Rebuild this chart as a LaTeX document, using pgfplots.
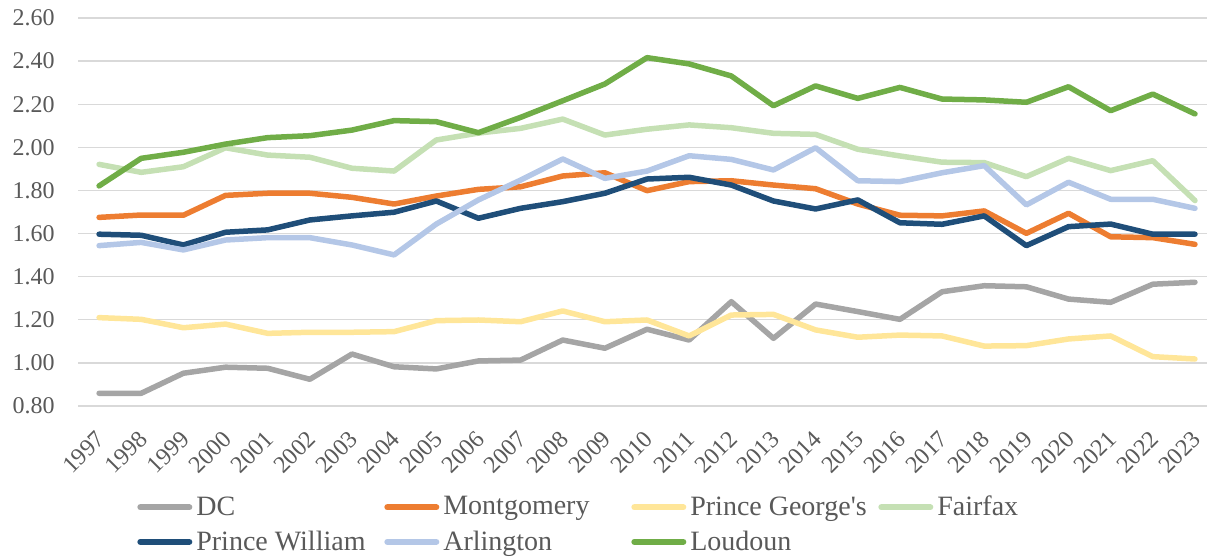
\documentclass[border=0pt]{standalone}
\usepackage{pgfplots}
\pgfplotsset{compat=1.18}
\usepackage{pgfplotstable}
\usepackage{fontspec}
\setmainfont{Liberation Serif}
\definecolor{txt}{HTML}{595959}
\definecolor{gridc}{HTML}{D9D9D9}
\definecolor{cDC}{HTML}{A5A5A5}
\definecolor{cMont}{HTML}{ED7D31}
\definecolor{cPG}{HTML}{FFE699}
\definecolor{cFair}{HTML}{C5E0B4}
\definecolor{cPW}{HTML}{1F4E79}
\definecolor{cArl}{HTML}{B4C7E7}
\definecolor{cLoud}{HTML}{70AD47}
\pgfplotstableread{
year DC Mont PG Fair PW Arl Loud
1997 0.859 1.675 1.210 1.921 1.597 1.544 1.821
1998 0.859 1.686 1.202 1.884 1.592 1.559 1.949
1999 0.952 1.685 1.163 1.910 1.547 1.524 1.977
2000 0.980 1.777 1.180 1.998 1.606 1.570 2.015
2001 0.975 1.787 1.137 1.964 1.617 1.581 2.045
2002 0.924 1.787 1.142 1.954 1.663 1.581 2.054
2003 1.041 1.768 1.142 1.903 1.682 1.547 2.080
2004 0.982 1.737 1.145 1.890 1.699 1.501 2.124
2005 0.972 1.774 1.196 2.034 1.751 1.644 2.119
2006 1.009 1.805 1.199 2.066 1.671 1.756 2.068
2007 1.013 1.817 1.191 2.088 1.717 1.848 2.139
2008 1.106 1.867 1.241 2.131 1.748 1.946 2.216
2009 1.068 1.882 1.191 2.057 1.787 1.856 2.294
2010 1.156 1.799 1.199 2.084 1.853 1.890 2.416
2011 1.106 1.841 1.125 2.104 1.861 1.961 2.387
2012 1.284 1.845 1.222 2.091 1.825 1.944 2.331
2013 1.114 1.825 1.225 2.065 1.751 1.895 2.193
2014 1.273 1.808 1.153 2.060 1.714 1.998 2.285
2015 1.238 1.737 1.119 1.991 1.756 1.845 2.227
2016 1.202 1.685 1.129 1.960 1.650 1.841 2.278
2017 1.330 1.682 1.125 1.931 1.643 1.882 2.224
2018 1.358 1.705 1.078 1.929 1.682 1.915 2.220
2019 1.353 1.601 1.080 1.864 1.544 1.733 2.209
2020 1.296 1.694 1.111 1.949 1.632 1.838 2.281
2021 1.281 1.585 1.125 1.892 1.644 1.759 2.170
2022 1.365 1.581 1.029 1.938 1.597 1.759 2.247
2023 1.374 1.550 1.018 1.753 1.597 1.717 2.155
}\datatable
\begin{document}
\begin{tikzpicture}
\useasboundingbox (0,0) rectangle (603.5pt,278.5pt);
\begin{axis}[
  at={(39pt,75.5pt)}, anchor=south west,
  scale only axis, width=564.6pt, height=194pt,
  xmin=1996.5, xmax=2023.29, ymin=0.8, ymax=2.6,
  ytick={0.8,1,1.2,1.4,1.6,1.8,2,2.2,2.4,2.6},
  xtick={1997,...,2023},
  axis line style={draw=none},
  major tick length=0pt,
  ymajorgrids, grid style={color=gridc, line width=0.65pt},
  /pgf/number format/assume math mode=true,
  tick label style={font=\fontsize{12}{14}\selectfont, text=txt},
  yticklabel style={/pgf/number format/fixed, /pgf/number format/fixed zerofill, /pgf/number format/precision=2, anchor=east, inner sep=0pt, xshift=-11.5pt},
  xticklabel style={/pgf/number format/1000 sep={}, inner sep=0pt, xshift=1pt, yshift=-14.5pt, rotate=45, anchor=east},
  every axis plot/.append style={line width=2.75pt, line cap=round, line join=round, no marks},
  legend columns=4,
  legend style={draw=none, fill=none, inner sep=0pt, at={(0.0522,-0.3054)}, anchor=west,
    font=\fontsize{14}{16}\selectfont, text=txt,
    /tikz/every even column/.append style={column sep=0pt},
    row sep=2pt},
  legend image code/.code={\draw[#1, line width=3pt, line cap=round] (1.5pt,0pt) -- (26pt,0pt);},
]
\addplot[color=cDC] table[x=year, y=DC] {\datatable};
\addlegendentry{\makebox[92pt][l]{DC}}
\addplot[color=cMont] table[x=year, y=Mont] {\datatable};
\addlegendentry{\makebox[92pt][l]{Montgomery}}
\addplot[color=cPG] table[x=year, y=PG] {\datatable};
\addlegendentry{\makebox[92pt][l]{Prince George\textquotesingle s}}
\addplot[color=cFair] table[x=year, y=Fair] {\datatable};
\addlegendentry{\makebox[92pt][l]{Fairfax}}
\addplot[color=cPW] table[x=year, y=PW] {\datatable};
\addlegendentry{\makebox[92pt][l]{Prince William}}
\addplot[color=cArl] table[x=year, y=Arl] {\datatable};
\addlegendentry{\makebox[92pt][l]{Arlington}}
\addplot[color=cLoud] table[x=year, y=Loud] {\datatable};
\addlegendentry{\makebox[92pt][l]{Loudoun}}
\end{axis}
\end{tikzpicture}
\end{document}
